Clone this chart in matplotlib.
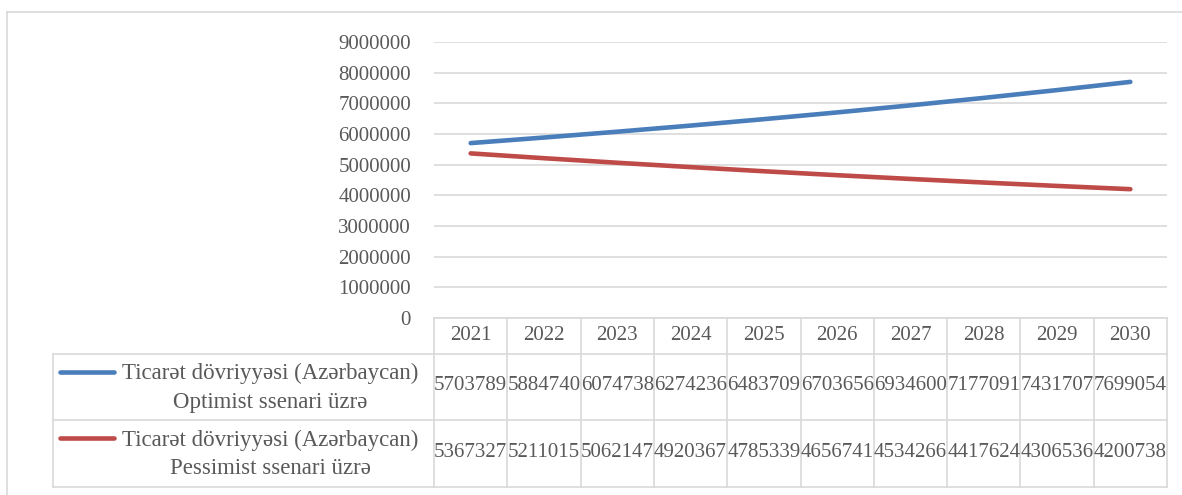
import numpy as np
import matplotlib.pyplot as plt

plt.rcParams['font.family'] = ['Liberation Serif', 'DejaVu Serif']

# ---- data ----
years = ['2021', '2022', '2023', '2024', '2025', '2026', '2027', '2028', '2029', '2030']
optimist = [5703789, 5884740, 6074738, 6274236, 6483709, 6703656, 6934600, 7177091, 7431707, 7699054]
pessimist = [5367327, 5211015, 5062147, 4920367, 4785339, 4656741, 4534266, 4417624, 4306536, 4200738]
series_names = ['Ticarət dövriyyəsi (Azərbaycan)\nOptimist ssenari üzrə',
                'Ticarət dövriyyəsi (Azərbaycan)\nPessimist ssenari üzrə']
y_ticks = [0, 1000000, 2000000, 3000000, 4000000, 5000000, 6000000, 7000000, 8000000, 9000000]

W, H = 1182, 495
txt = '#595959'
grid = '#D9D9D9'
colors = ['#4A7EBB', '#BE4B48']
fs = 15

fig = plt.figure(figsize=(W / 100, H / 100), dpi=100)

# overlay in pixel coordinates for table and border
ov = fig.add_axes([0, 0, 1, 1])
ov.set_xlim(0, W)
ov.set_ylim(H, 0)
ov.axis('off')

# plot area
px_l, px_r, py_t, py_b = 434, 1167, 42, 318
ax = fig.add_axes([px_l / W, 1 - py_b / H, (px_r - px_l) / W, (py_b - py_t) / H])
x = np.arange(len(years))
for vals, c in zip([optimist, pessimist], colors):
    ax.plot(x, vals, color=c, lw=3.3, solid_capstyle='round', zorder=3)
ax.set_xlim(-0.5, len(years) - 0.5)
ax.set_ylim(0, 9000000)
ax.set_yticks(y_ticks)
ax.set_yticklabels([str(v) for v in y_ticks], color=txt, fontsize=fs)
ax.set_xticks([])
ax.tick_params(axis='y', length=0, pad=16.5)
ax.grid(axis='y', color=grid, lw=1.2)
ax.set_axisbelow(True)
for s in ax.spines.values():
    s.set_visible(False)
ax.patch.set_alpha(0)

# outer chart border
ov.plot([7, 7], [12, H], color=grid, lw=1.2)
ov.plot([7, W], [12, 12], color=grid, lw=1.2)

# data table
col_w = (px_r - px_l) / len(years)
rows_y = [318, 354, 420, 487]
tl = 53
ov.plot([px_l, px_r], [rows_y[0]] * 2, color=grid, lw=1.2)
for yy in rows_y[1:]:
    ov.plot([tl, px_r], [yy, yy], color=grid, lw=1.2)
ov.plot([tl, tl], [rows_y[1], rows_y[3]], color=grid, lw=1.2)
for k in range(len(years) + 1):
    xx = px_l + k * col_w
    ov.plot([xx, xx], [rows_y[0], rows_y[3]], color=grid, lw=1.2)

for k, yr in enumerate(years):
    cx = px_l + (k + 0.5) * col_w
    ov.text(cx, 336, yr, ha='center', va='center', color=txt, fontsize=fs)

for r, (vals, c, name) in enumerate(zip([optimist, pessimist], colors, series_names)):
    y0, y1 = rows_y[r + 1], rows_y[r + 2]
    cy = (y0 + y1) / 2
    ov.plot([60, 114], [y0 + 18, y0 + 18], color=c, lw=3.3, solid_capstyle='round')
    ov.text(270, cy + 1, name, ha='center', va='center', color=txt, fontsize=16.5,
            linespacing=1.45, multialignment='center')
    for k, v in enumerate(vals):
        cx = px_l + (k + 0.5) * col_w
        ov.text(cx, cy - 1, str(v), ha='center', va='center', color=txt, fontsize=fs)

fig.savefig('out.png', dpi=100)
